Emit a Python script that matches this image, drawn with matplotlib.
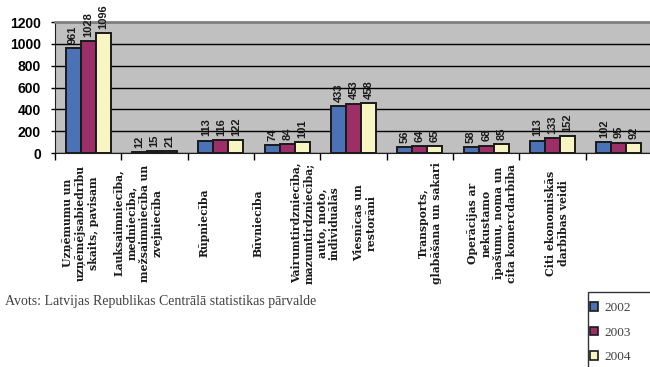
import matplotlib.pyplot as plt
import matplotlib.transforms as mtransforms
from matplotlib.patches import Patch, Rectangle
import numpy as np

# Uzņēmumu skaits pa darbības veidiem, 2002-2004
categories = [
    "Uzņēmumu un\nuzņēmējsabiedrību\nskaits, pavisam",
    "Lauksaimniecība,\nmedniecība,\nmežsaimniecība un\nzvejniecība",
    "Rūpniecība",
    "Būvniecība",
    "Vairumtirdzniecība,\nmazumtirdzniecība;\nauto, moto,\nindividuālās",
    "Viesnīcas un\nrestorāni",
    "Transports,\nglabāšana un sakari",
    "Operācijas ar\nnekustamo\nīpašumu, noma un\ncita komercdarbība",
    "Citi ekonomiskās\ndarbības veidi",
]
years = ["2002", "2003", "2004"]
v2002 = [961, 12, 113, 74, 433, 56, 58, 113, 102]
v2003 = [1028, 15, 116, 84, 453, 64, 68, 133, 95]
v2004 = [1096, 21, 122, 101, 458, 65, 85, 152, 92]
yticks = [0, 200, 400, 600, 800, 1000, 1200]

colors = ["#4A72B4", "#9C2F68", "#F7F5C2"]
# where the rotated category captions sit along x
label_x = [-0.12, 0.75, 1.75, 2.56, 3.42, 4.17, 5.15, 6.09, 7.07]

fig = plt.figure(figsize=(6.5, 3.67), dpi=100)
ax = fig.add_axes([55 / 650, 1 - 153 / 367, 597 / 650, 131 / 367])
ax.set_facecolor("#C0C0C0")

x = np.arange(len(categories))
w = 0.227
for k, (vals, col) in enumerate(zip([v2002, v2003, v2004], colors)):
    bars = ax.bar(x + (k - 1) * w, vals, w, color=col, edgecolor="#1a1a1a",
                  linewidth=1.4, zorder=3)
    for b, v in zip(bars, vals):
        ax.annotate(str(v), (b.get_x() + b.get_width() / 2, v),
                    xytext=(0, 3), textcoords="offset points",
                    rotation=90, ha="center", va="bottom",
                    fontsize=8, fontweight="bold", family="Liberation Sans",
                    color="#1a1a1a")

ax.set_xlim(-0.5, len(categories) - 0.5)
ax.set_ylim(0, 1200)
ax.set_yticks(yticks)
ax.set_yticklabels([str(t) for t in yticks], fontsize=10, fontweight="bold",
                   family="Liberation Sans")
ax.yaxis.grid(True, color="black", linewidth=1, zorder=1)
ax.tick_params(axis="y", length=3, width=1, pad=7)

ax.set_xticks(np.arange(len(categories) + 1) - 0.5)
ax.set_xticklabels([])
ax.tick_params(axis="x", length=5, width=1)

ax.spines["top"].set_color("#808080")
ax.spines["top"].set_linewidth(2)
ax.spines["right"].set_visible(False)
ax.spines["left"].set_color("#202020")
ax.spines["bottom"].set_color("#202020")

trans = mtransforms.blended_transform_factory(ax.transData, ax.transAxes)
for lx, lab in zip(label_x, categories):
    ax.text(lx, -0.535, lab, rotation=90, ha="center", va="center",
            multialignment="center", transform=trans, fontsize=7.8,
            fontweight="bold", family="DejaVu Serif", color="#1a1a1a",
            linespacing=1.2, clip_on=False)

fig.text(5 / 650, 1 - 302 / 367,
         "Avots: Latvijas Republikas Centrālā statistikas pārvalde",
         ha="left", va="center", fontsize=10, family="Liberation Serif",
         color="#404040")

# legend box runs past the lower right corner of the figure
fig.patches.append(Rectangle((588 / 650, -0.1), 0.2, 0.1 + (367 - 292) / 367,
                             transform=fig.transFigure, facecolor="white",
                             edgecolor="#333333", linewidth=1))
handles = [Patch(facecolor=c, edgecolor="#1a1a1a", linewidth=1.2) for c in colors]
leg = fig.legend(handles, years, loc="upper left",
                 bbox_to_anchor=(590 / 650, 1 - 302 / 367),
                 frameon=False,
                 prop={"family": "Liberation Serif", "size": 9.5},
                 handlelength=0.6, handleheight=0.6, handletextpad=0.5,
                 labelspacing=0.95, borderpad=0, borderaxespad=0)
for t in leg.get_texts():
    t.set_color("#404040")

fig.savefig("out.png", dpi=100)
